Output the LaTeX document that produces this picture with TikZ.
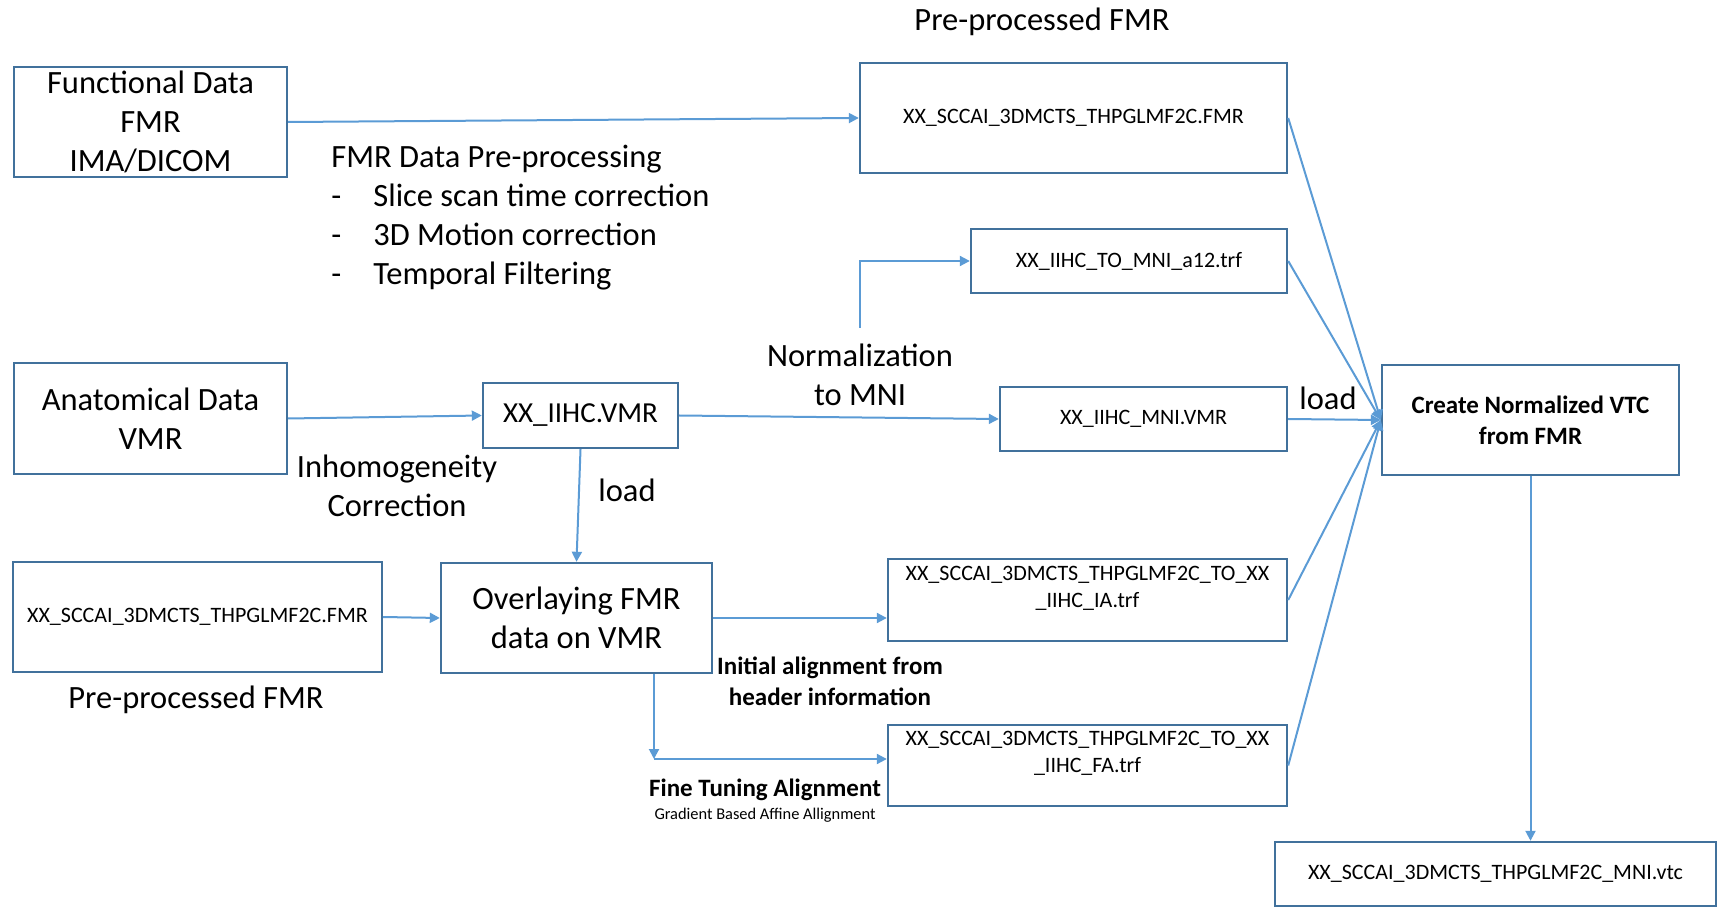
\documentclass[tikz,border=0pt]{standalone}
\usepackage{fontspec}
\setmainfont{Carlito}
\usepackage{tikz}
\usetikzlibrary{arrows.meta}
\definecolor{boxblue}{RGB}{65,113,156}
\definecolor{linkblue}{RGB}{91,155,213}
\newcommand{\bigtxt}{\fontsize{16.25}{19.5}\selectfont}
\newcommand{\fntxt}{\fontsize{11}{13.5}\selectfont}
\newcommand{\boldtxt}{\fontsize{12.5}{15.5}\selectfont\bfseries}
\newcommand{\dashitem}[1]{\makebox[21pt][l]{-}#1}
\tikzset{>={Triangle[length=5pt,width=5pt]}}
\tikzset{
  box/.style={draw=boxblue, line width=1.2pt, inner sep=0pt, align=center},
  link/.style={->, draw=linkblue, line width=1pt},
  txt/.style={inner sep=0pt, align=center}
}

\begin{document}
\begin{tikzpicture}[x=0.5pt,y=-0.5pt]
  \useasboundingbox (0,0) rectangle (1717,908);

  % boxes
  \node[box, font=\bigtxt, minimum width=136.5pt, minimum height=55pt] (func) at (150.5,122) {Functional Data\\FMR\\IMA/DICOM};
  \node[box, font=\fntxt, minimum width=213.5pt, minimum height=55pt] (fmrtop) at (1073.5,118) {XX\_SCCAI\_3DMCTS\_THPGLMF2C.FMR};
  \node[box, font=\fntxt, minimum width=158pt, minimum height=32pt] (a12) at (1129,261) {XX\_IIHC\_TO\_MNI\_a12.trf};
  \node[box, font=\bigtxt, minimum width=136.5pt, minimum height=55.5pt] (anat) at (150.5,418.5) {Anatomical Data\\VMR};
  \node[box, font=\fontsize{14.5}{17}\selectfont, minimum width=97.5pt, minimum height=32.5pt] (iihc) at (580.5,415.5) {XX\_IIHC.VMR};
  \node[box, font=\fntxt, minimum width=143.5pt, minimum height=32pt] (mni) at (1143.5,419) {XX\_IIHC\_MNI.VMR};
  \node[box, font=\boldtxt, minimum width=148.5pt, minimum height=55pt] (create) at (1530.5,420) {Create Normalized VTC\\from FMR};
  \node[box, font=\fntxt, minimum width=184.5pt, minimum height=55pt] (fmrlow) at (197.5,617) {XX\_SCCAI\_3DMCTS\_THPGLMF2C.FMR};
  \node[box, font=\bigtxt, minimum width=135.5pt, minimum height=55pt] (overlay) at (576.5,618) {Overlaying FMR\\data on VMR};
  \node[box, minimum width=199.5pt, minimum height=41pt] (ia) at (1087.5,600) {};
  \node[txt, font=\fntxt] (iatxt) at ([yshift=5.75pt]ia.center) {XX\_SCCAI\_3DMCTS\_THPGLMF2C\_TO\_XX\\\_IIHC\_IA.trf};
  \node[box, minimum width=199.5pt, minimum height=40.5pt] (fa) at (1087.5,765.5) {};
  \node[txt, font=\fntxt] (fatxt) at ([yshift=6pt]fa.center) {XX\_SCCAI\_3DMCTS\_THPGLMF2C\_TO\_XX\\\_IIHC\_FA.trf};
  \node[box, font=\fntxt, minimum width=220.5pt, minimum height=32pt] (vtc) at (1495.5,874) {XX\_SCCAI\_3DMCTS\_THPGLMF2C\_MNI.vtc};

  % labels
  \node[txt, font=\bigtxt] (pretop) at (1042,22) {Pre-processed FMR};
  \node[txt, font=\bigtxt, align=left, anchor=west] (prep) at (331,218) {FMR Data Pre-processing\\\dashitem{Slice scan time correction}\\\dashitem{3D Motion correction}\\\dashitem{Temporal Filtering}};
  \node[txt, font=\bigtxt] (norm) at (860,375) {Normalization\\to MNI};
  \node[txt, font=\bigtxt] (inhom) at (397,486) {Inhomogeneity\\Correction};
  \node[txt, font=\bigtxt] (loadv) at (627,490) {load};
  \node[txt, font=\bigtxt] (loadh) at (1328,398) {load};
  \node[txt, font=\bigtxt] (prelow) at (196,700) {Pre-processed FMR};
  \node[txt, font=\boldtxt] (initial) at (830,681) {Initial alignment from\\header information};
  \node[txt, font=\boldtxt] (finetune) at (765,790) {Fine Tuning Alignment};
  \node[txt, font=\fontsize{8.2}{10}\selectfont] (gradient) at (765,815) {Gradient Based Affine Allignment};

  % connectors
  \draw[link] (func.east) -- (fmrtop.west);
  \draw[link] (anat.east) -- (iihc.west);
  \draw[link] (iihc.east) -- (mni.west);
  \draw[link] (iihc.south) -- (overlay.north);
  \draw[link] (fmrlow.east) -- (overlay.west);
  \draw[link] (overlay.east) -- (overlay.east -| ia.west);
  \coordinate (ftcorner) at (654,759);
  \draw[link] (ftcorner |- overlay.south) -- (ftcorner);
  \draw[link] (ftcorner) -- (ftcorner -| fa.west);
  \draw[link] ([yshift=8pt]norm.north) |- (a12.west);
  \foreach \src in {fmrtop,a12,mni,ia,fa}
    \draw[link] (\src.east) -- (create.west);
  \draw[link] (create.south) -- (create.south |- vtc.north);
\end{tikzpicture}
\end{document}
